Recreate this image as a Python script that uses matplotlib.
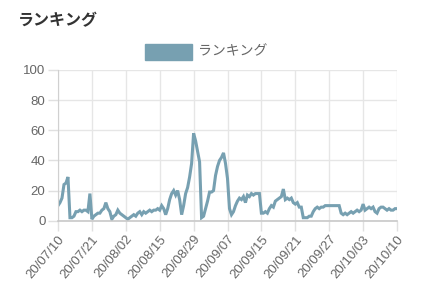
import matplotlib
matplotlib.use("Agg")
import matplotlib.pyplot as plt
from matplotlib.patches import Rectangle

plt.rcParams['font.family'] = ['Liberation Sans', 'Noto Sans CJK JP', 'DejaVu Sans']

title = "ランキング"
series_name = "ランキング"
tick_labels = ["20/07/10", "20/07/21", "20/08/02", "20/08/15", "20/08/29", "20/09/07",
               "20/09/15", "20/09/21", "20/09/27", "20/10/03", "20/10/10"]
ranking = [10, 12, 15, 24, 25, 29, 2, 2, 3, 6, 6, 7, 6, 7, 7, 6, 18, 1, 3, 4,
           5, 5, 7, 8, 12, 8, 6, 1, 3, 4, 7, 5, 4, 3, 2, 1, 2, 3, 4, 3,
           5, 6, 4, 6, 5, 6, 7, 6, 7, 7, 8, 7, 10, 8, 4, 8, 14, 18, 20, 17,
           20, 14, 4, 10, 18, 22, 29, 38, 58, 53, 46, 39, 2, 3, 8, 13, 19, 19, 20, 30,
           36, 40, 42, 45, 38, 28, 8, 4, 6, 10, 13, 15, 14, 16, 12, 17, 16, 18, 17, 18,
           18, 18, 5, 5, 6, 5, 8, 10, 9, 13, 14, 15, 16, 21, 14, 15, 14, 15, 12, 11,
           12, 9, 9, 2, 2, 2, 3, 3, 6, 8, 9, 8, 9, 9, 10, 10, 10, 10, 10, 10,
           10, 10, 5, 4, 5, 4, 5, 6, 5, 6, 7, 6, 7, 11, 7, 8, 9, 8, 9, 6,
           5, 8, 9, 9, 8, 7, 8, 7, 7, 8, 8]
y_ticks = [0, 20, 40, 60, 80, 100]

color = '#77a0b1'
W, H = 422, 297
fig = plt.figure(figsize=(W / 100, H / 100), dpi=100)
ax = fig.add_axes([58 / W, 1 - 220.7 / H, (397 - 58) / W, (220.7 - 70) / H])

x = list(range(len(ranking)))
ax.plot(x, ranking, color=color, lw=2.2, solid_joinstyle='miter')
n = len(ranking) - 1
step = n // (len(tick_labels) - 1)
ax.set_xlim(0, n)
ax.set_ylim(0, 100)
ax.set_xticks([i * step for i in range(len(tick_labels))])
ax.set_xticklabels(tick_labels, rotation=50, ha='right', rotation_mode='anchor',
                   fontsize=9.8)
ax.set_yticks(y_ticks)
ax.grid(True, color='#e6e6e6', lw=1)
ax.set_axisbelow(True)
for s in ['top', 'right']:
    ax.spines[s].set_visible(False)
ax.spines['left'].set_color('#d0d0d0')
ax.spines['bottom'].set_color('#c8c8c8')
ax.spines['bottom'].set_linewidth(1.2)
ax.tick_params(axis='both', colors='#e0e0e0', labelcolor='#666666', labelsize=9.5,
               length=7, width=1)
ax.tick_params(axis='y', pad=2)
ax.tick_params(axis='x', pad=2)

fig.text(18 / W, 1 - 20 / H, title, fontsize=11.5, fontweight='bold',
         color='#333333', va='center', ha='left',
         family=['Noto Sans CJK JP', 'DejaVu Sans'])
fig.patches.append(Rectangle((145 / W, 1 - 60 / H), 47 / W, 16 / H,
                             transform=fig.transFigure, facecolor=color,
                             edgecolor=color, lw=1))
fig.text(198 / W, 1 - 51 / H, series_name, fontsize=10, color='#666666',
         va='center', ha='left', family=['Noto Sans CJK JP', 'DejaVu Sans'])

fig.savefig('out.png', dpi=100)
